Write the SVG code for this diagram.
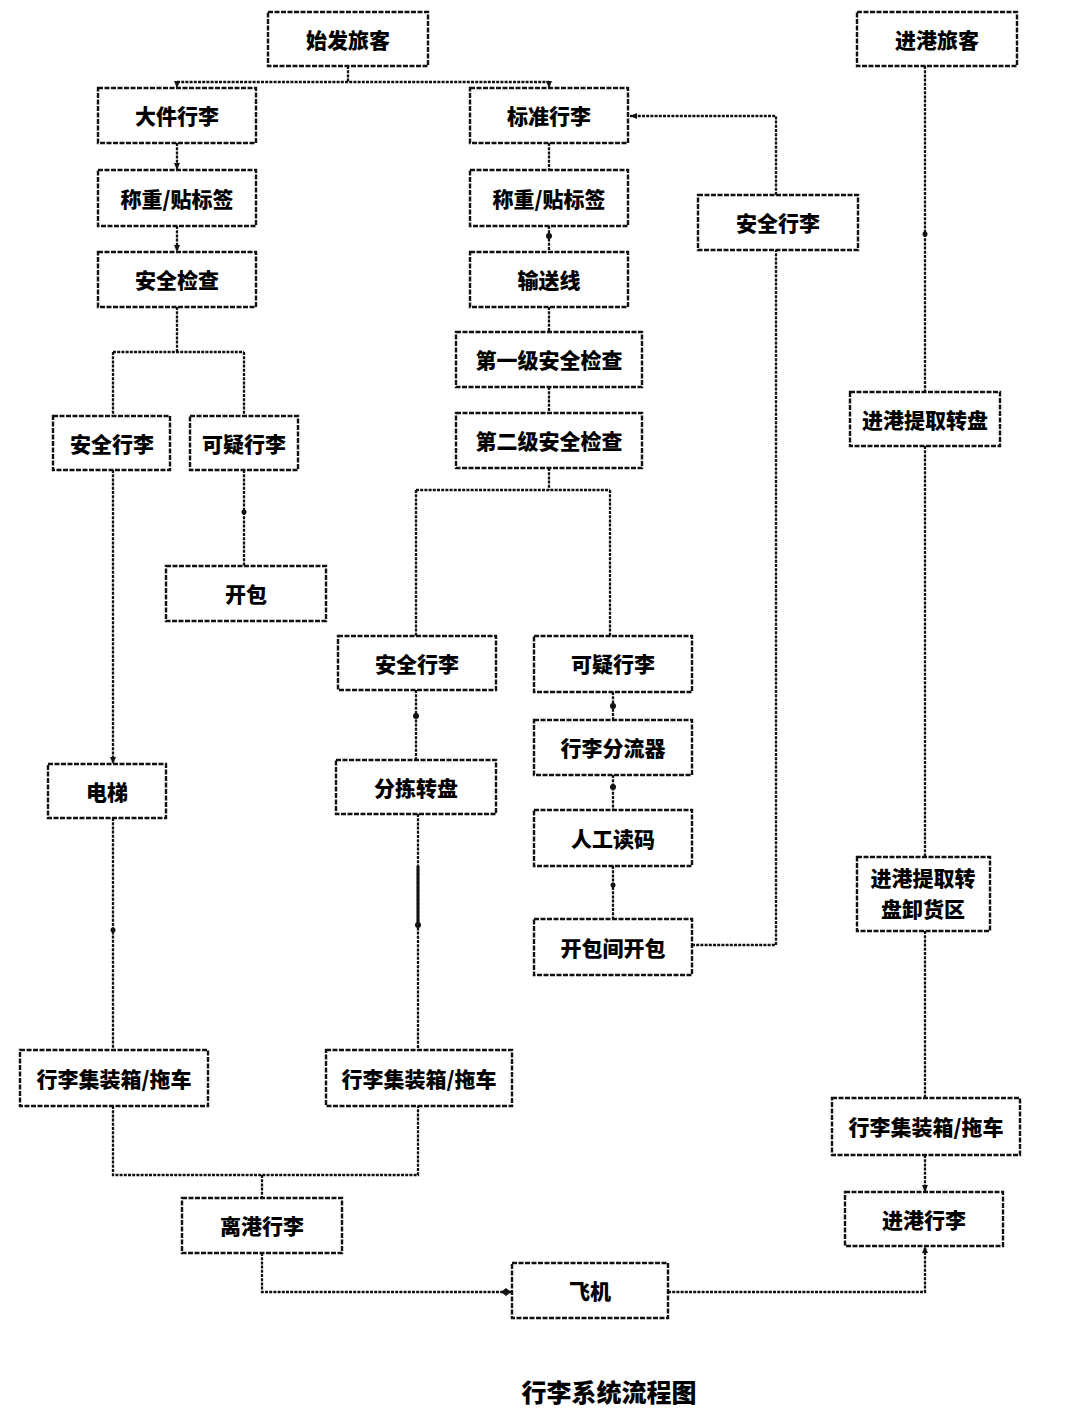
<svg xmlns="http://www.w3.org/2000/svg" width="1081" height="1427" viewBox="0 0 1081 1427">
<style>
.box{fill:#fff;stroke:#111;stroke-width:2.4;stroke-dasharray:5 1.5}
.t{font-family:"Noto Sans CJK SC","Noto Sans CJK JP",sans-serif;font-weight:900;font-size:21px;fill:#000;text-anchor:middle;dominant-baseline:central}
.c{fill:none;stroke:#111;stroke-width:2.3;stroke-dasharray:3 1.2}
.cap{font-family:"Noto Sans CJK SC",sans-serif;font-weight:900;font-size:25px;fill:#000;text-anchor:middle}
</style>
<defs>
<marker id="ar" markerWidth="8" markerHeight="8" refX="7" refY="4" orient="auto" markerUnits="userSpaceOnUse"><path d="M0,1 L7,4 L0,7 z" fill="#111"/></marker>
<marker id="dm" markerWidth="12" markerHeight="10" refX="11" refY="5" orient="auto" markerUnits="userSpaceOnUse"><path d="M0,5 L5,1 L10,5 L5,9 z" fill="#111"/></marker>
</defs>
<rect width="1081" height="1427" fill="#fff"/>
<g id="connectors">
<path class="c" d="M348,66 V82"/>
<path class="c" d="M177,82 H549"/>
<path class="c" d="M177,82 V88" marker-end="url(#ar)"/>
<path class="c" d="M549,82 V88" marker-end="url(#ar)"/>
<path class="c" d="M177,143 V170" marker-end="url(#ar)"/>
<path class="c" d="M177,226 V252" marker-end="url(#ar)"/>
<path class="c" d="M177,307 V352"/>
<path class="c" d="M113,352 H244"/>
<path class="c" d="M113,352 V416"/>
<path class="c" d="M244,352 V416"/>
<path class="c" d="M113,470 V764" marker-end="url(#ar)"/>
<path class="c" d="M244,470 V566"/>
<circle cx="244" cy="512" r="2.5" fill="#111"/>
<path class="c" d="M113,818 V1050"/>
<circle cx="113" cy="930" r="2.5" fill="#111"/>
<path class="c" d="M113,1106 V1175 H418 V1106"/>
<path class="c" d="M262,1175 V1198"/>
<path class="c" d="M262,1253 V1292 H512" marker-end="url(#dm)"/>
<path class="c" d="M668,1292 H925 V1246" marker-end="url(#ar)"/>
<path class="c" d="M549,143 V170"/>
<path class="c" d="M549,226 V252"/>
<circle cx="549" cy="236" r="3" fill="#111"/>
<path class="c" d="M549,307 V332"/>
<path class="c" d="M549,387 V413"/>
<path class="c" d="M549,468 V490"/>
<path class="c" d="M416,490 H610"/>
<path class="c" d="M416,490 V636"/>
<path class="c" d="M610,490 V636"/>
<path class="c" d="M416,690 V760"/>
<circle cx="416" cy="716" r="3" fill="#111"/>
<path class="c" d="M418,814 V1050"/>
<path d="M418,866 V925" stroke="#111" stroke-width="3" fill="none"/>
<circle cx="418" cy="925" r="3" fill="#111"/>
<path class="c" d="M613,692 V720"/>
<circle cx="613" cy="706" r="3" fill="#111"/>
<path class="c" d="M613,775 V810"/>
<circle cx="613" cy="787" r="3" fill="#111"/>
<path class="c" d="M613,866 V919"/>
<circle cx="613" cy="885" r="2.5" fill="#111"/>
<path class="c" d="M692,945 H776 V250"/>
<path class="c" d="M776,195 V116 H630" marker-end="url(#ar)"/>
<path class="c" d="M925,66 V392"/>
<circle cx="925" cy="234" r="2.5" fill="#111"/>
<path class="c" d="M925,446 V857"/>
<path class="c" d="M925,931 V1098"/>
<path class="c" d="M925,1155 V1192" marker-end="url(#ar)"/>
</g>
<g id="n1"><rect class="box" x="268" y="12" width="160" height="54"/><text class="t" x="348" y="39">始发旅客</text></g>
<g id="n2"><rect class="box" x="98" y="88" width="158" height="55"/><text class="t" x="177" y="115">大件行李</text></g>
<g id="n3"><rect class="box" x="98" y="170" width="158" height="56"/><text class="t" x="177" y="198">称重/贴标签</text></g>
<g id="n4"><rect class="box" x="98" y="252" width="158" height="55"/><text class="t" x="177" y="279">安全检查</text></g>
<g id="n5"><rect class="box" x="53" y="416" width="117" height="54"/><text class="t" x="112" y="443">安全行李</text></g>
<g id="n6"><rect class="box" x="190" y="416" width="108" height="54"/><text class="t" x="244" y="443">可疑行李</text></g>
<g id="n7"><rect class="box" x="166" y="566" width="160" height="55"/><text class="t" x="246" y="593">开包</text></g>
<g id="n8"><rect class="box" x="48" y="764" width="118" height="54"/><text class="t" x="107" y="791">电梯</text></g>
<g id="n9"><rect class="box" x="20" y="1050" width="188" height="56"/><text class="t" x="114" y="1078">行李集装箱/拖车</text></g>
<g id="n10"><rect class="box" x="470" y="88" width="158" height="55"/><text class="t" x="549" y="115">标准行李</text></g>
<g id="n11"><rect class="box" x="470" y="170" width="158" height="56"/><text class="t" x="549" y="198">称重/贴标签</text></g>
<g id="n12"><rect class="box" x="470" y="252" width="158" height="55"/><text class="t" x="549" y="279">输送线</text></g>
<g id="n13"><rect class="box" x="456" y="332" width="186" height="55"/><text class="t" x="549" y="359">第一级安全检查</text></g>
<g id="n14"><rect class="box" x="456" y="413" width="186" height="55"/><text class="t" x="549" y="440">第二级安全检查</text></g>
<g id="n15"><rect class="box" x="338" y="636" width="158" height="54"/><text class="t" x="417" y="663">安全行李</text></g>
<g id="n16"><rect class="box" x="534" y="636" width="158" height="56"/><text class="t" x="613" y="663">可疑行李</text></g>
<g id="n17"><rect class="box" x="534" y="720" width="158" height="55"/><text class="t" x="613" y="747">行李分流器</text></g>
<g id="n18"><rect class="box" x="336" y="760" width="160" height="54"/><text class="t" x="416" y="787">分拣转盘</text></g>
<g id="n19"><rect class="box" x="534" y="810" width="158" height="56"/><text class="t" x="613" y="838">人工读码</text></g>
<g id="n20"><rect class="box" x="534" y="919" width="158" height="56"/><text class="t" x="613" y="947">开包间开包</text></g>
<g id="n21"><rect class="box" x="326" y="1050" width="186" height="56"/><text class="t" x="419" y="1078">行李集装箱/拖车</text></g>
<g id="n22"><rect class="box" x="182" y="1198" width="160" height="55"/><text class="t" x="262" y="1225">离港行李</text></g>
<g id="n23"><rect class="box" x="512" y="1263" width="156" height="55"/><text class="t" x="590" y="1290">飞机</text></g>
<g id="n24"><rect class="box" x="698" y="195" width="160" height="55"/><text class="t" x="778" y="222">安全行李</text></g>
<g id="n25"><rect class="box" x="857" y="12" width="160" height="54"/><text class="t" x="937" y="39">进港旅客</text></g>
<g id="n26"><rect class="box" x="850" y="392" width="150" height="54"/><text class="t" x="925" y="419">进港提取转盘</text></g>
<g id="n27"><rect class="box" x="857" y="857" width="133" height="74"/><text class="t" x="923" y="877">进港提取转</text><text class="t" x="923" y="908">盘卸货区</text></g>
<g id="n28"><rect class="box" x="832" y="1098" width="188" height="57"/><text class="t" x="926" y="1126">行李集装箱/拖车</text></g>
<g id="n29"><rect class="box" x="845" y="1192" width="158" height="54"/><text class="t" x="924" y="1219">进港行李</text></g>
<text class="cap" x="609" y="1402">行李系统流程图</text>
</svg>
